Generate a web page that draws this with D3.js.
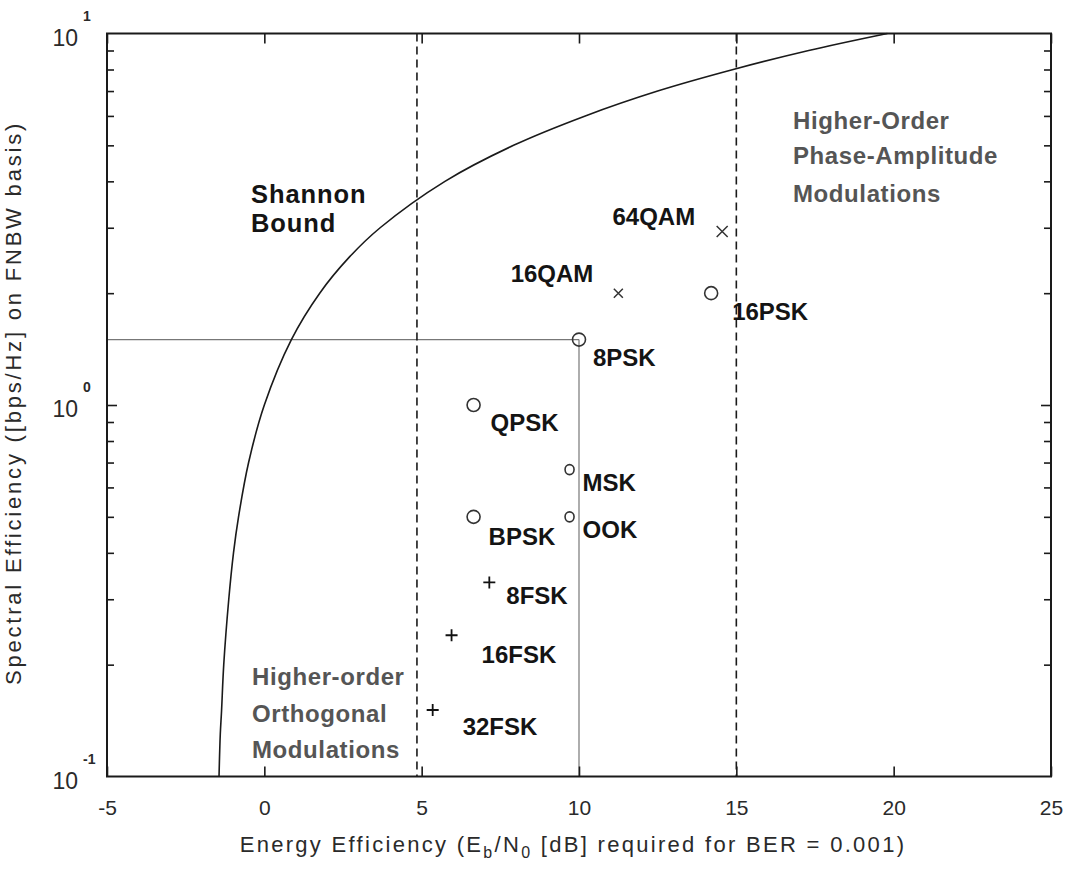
<!DOCTYPE html>
<html>
<head>
<meta charset="utf-8">
<script src="https://cdn.jsdelivr.net/npm/d3@7"></script>
<style>
  html, body { margin: 0; padding: 0; background: #fff; }
  svg { display: block; }
  text { font-family: "Liberation Sans", Arial, Helvetica, sans-serif; }
</style>
</head>
<body>
<svg id="chart" width="1068" height="869"></svg>
<script>
// Modulation schemes: required Eb/N0 (dB) for BER = 1e-3 and spectral efficiency (bps/Hz, FNBW)
const schemes  = ["64QAM", "16QAM", "16PSK", "8PSK", "QPSK", "MSK", "OOK", "BPSK", "8FSK", "16FSK", "32FSK"];
const ebN0     = [14.55, 11.25, 14.2, 10.0, 6.65, 9.7, 9.7, 6.65, 7.15, 5.95, 5.35];
const specEff  = [2.93, 2.0, 2.0, 1.5, 1.0, 0.67, 0.5, 0.5, 0.333, 0.24, 0.151];
const markers  = ["x", "x", "o", "o", "o", "o", "o", "o", "+", "+", "+"];

// Shannon bound: Eb/N0 (dB) and spectral efficiency (bps/Hz)
const shannonEbN0 = [-1.44, -1.40, -1.36, -1.29, -1.13, -0.98, -0.82, -0.50, 0.0, 0.86, 1.76, 2.70, 3.68, 5.74, 7.92, 10.2, 12.5, 14.9, 17.3, 19.8];
const shannonEff  = [0.1, 0.13, 0.15, 0.2, 0.3, 0.4, 0.5, 0.7, 1.0, 1.5, 2.0, 2.5, 3.0, 4.0, 5.0, 6.0, 7.0, 8.0, 9.0, 10.0];

// Region boundaries (dashed)
const boundaryEbN0 = [4.85, 15];
const xTicks = [-5, 0, 5, 10, 15, 20, 25];
const yDecades = [-1, 0, 1];

const svg = d3.select("#chart");
const L = 107, R = 1051, T = 33.5, B = 776.5;

const x = d3.scaleLinear().domain([-5, 25]).range([L, R]);
const y = d3.scaleLog().domain([0.1, 10]).range([B, T]);

const ink = "#1a1a1a";

// reference lines through 8PSK
const ref = schemes.indexOf("8PSK");
svg.append("line")
  .attr("x1", x(-5)).attr("x2", x(ebN0[ref]))
  .attr("y1", y(specEff[ref])).attr("y2", y(specEff[ref]))
  .attr("stroke", "#777").attr("stroke-width", 1.2);
svg.append("line")
  .attr("x1", x(ebN0[ref])).attr("x2", x(ebN0[ref]))
  .attr("y1", y(specEff[ref])).attr("y2", y(0.1))
  .attr("stroke", "#777").attr("stroke-width", 1.2);

// dashed region boundaries
svg.selectAll("line.bound").data(boundaryEbN0).enter().append("line")
  .attr("class", "bound")
  .attr("x1", d => x(d)).attr("x2", d => x(d))
  .attr("y1", y(10)).attr("y2", y(0.1))
  .attr("stroke", ink).attr("stroke-width", 1.6)
  .attr("stroke-dasharray", "8,5");

// Shannon bound curve
const shannon = shannonEbN0.map((v, i) => [v, shannonEff[i]]);
svg.append("path")
  .datum(shannon)
  .attr("fill", "none")
  .attr("stroke", ink)
  .attr("stroke-width", 1.6)
  .attr("d", d3.line().x(d => x(d[0])).y(d => y(d[1])).curve(d3.curveCatmullRom.alpha(0.5)));

// frame
svg.append("rect")
  .attr("x", L).attr("y", T).attr("width", R - L).attr("height", B - T)
  .attr("fill", "none").attr("stroke", ink).attr("stroke-width", 2);

// x axis ticks (inward, bottom and top) and labels
const xAxisB = d3.axisBottom(x).tickValues(xTicks).tickSize(-10).tickPadding(25).tickFormat(d => String(d));
const gxb = svg.append("g").attr("transform", `translate(0,${B})`).call(xAxisB);
const xAxisT = d3.axisTop(x).tickValues(xTicks).tickSize(-10).tickFormat("");
const gxt = svg.append("g").attr("transform", `translate(0,${T})`).call(xAxisT);
[gxb, gxt].forEach(g => {
  g.select(".domain").remove();
  g.selectAll(".tick line").attr("stroke", ink).attr("stroke-width", 1.6);
});
gxb.selectAll(".tick text")
  .attr("font-size", 21).attr("fill", "#2a2a2a")
  .attr("font-family", "'Liberation Sans Narrow', 'Liberation Sans', Arial, sans-serif")
  .attr("dy", "0.65em");

// y axis: major and minor log ticks on both sides
const yMinor = [];
for (let e = -1; e < 1; e++) for (let k = 2; k <= 9; k++) yMinor.push(k * Math.pow(10, e));
const yMajor = yDecades.map(e => Math.pow(10, e)).filter(v => v > 0.1 && v < 10);

const yAxisL = d3.axisLeft(y).tickValues(yMinor).tickSize(-7).tickFormat("");
const yAxisR = d3.axisRight(y).tickValues(yMinor).tickSize(-7).tickFormat("");
const yAxisLM = d3.axisLeft(y).tickValues(yMajor).tickSize(-10).tickFormat("");
const yAxisRM = d3.axisRight(y).tickValues(yMajor).tickSize(-10).tickFormat("");
[[yAxisL, L], [yAxisR, R], [yAxisLM, L], [yAxisRM, R]].forEach(([ax, pos]) => {
  const g = svg.append("g").attr("transform", `translate(${pos},0)`).call(ax);
  g.select(".domain").remove();
  g.selectAll(".tick line").attr("stroke", ink).attr("stroke-width", 1.6);
});

// y tick labels as powers of ten
const yl = svg.append("g");
yDecades.forEach(e => {
  const ty = y(Math.pow(10, e));
  yl.append("text")
    .attr("x", 78).attr("y", ty + 12)
    .attr("text-anchor", "end")
    .attr("font-size", 23).attr("fill", "#2a2a2a")
    .text("10");
  yl.append("text")
    .attr("x", 83).attr("y", ty - 13)
    .attr("font-size", 14).attr("font-weight", "bold").attr("fill", "#2a2a2a")
    .text(String(e));
});

// markers
const g = svg.append("g");
schemes.forEach((name, i) => {
  const cx = x(ebN0[i]), cy = y(specEff[i]);
  const m = markers[i];
  if (m === "o") {
    const small = (name === "MSK" || name === "OOK");
    g.append("ellipse")
      .attr("cx", cx).attr("cy", cy)
      .attr("rx", small ? 4.5 : 6.5).attr("ry", small ? 5 : 6.5)
      .attr("fill", "none").attr("stroke", "#333").attr("stroke-width", 1.6);
  } else if (m === "x") {
    const h = name === "64QAM" ? 5.5 : 4.5;
    g.append("path")
      .attr("d", `M${cx - h},${cy - h}L${cx + h},${cy + h}M${cx - h},${cy + h}L${cx + h},${cy - h}`)
      .attr("stroke", "#333").attr("stroke-width", 1.5);
  } else {
    const h = 6;
    g.append("path")
      .attr("d", `M${cx - h},${cy}L${cx + h},${cy}M${cx},${cy - h}L${cx},${cy + h}`)
      .attr("stroke", "#111").attr("stroke-width", 1.8);
  }
});

// label placement relative to each marker (pixels)
const labelPos = {
  "64QAM": { dx: -27, dy: -7, anchor: "end" },
  "16QAM": { dx: -25, dy: -11, anchor: "end" },
  "16PSK": { dx: 21, dy: 27, anchor: "start" },
  "8PSK":  { dx: 14, dy: 26, anchor: "start" },
  "QPSK":  { dx: 17, dy: 26, anchor: "start" },
  "MSK":   { dx: 13, dy: 21, anchor: "start" },
  "OOK":   { dx: 13, dy: 21, anchor: "start" },
  "BPSK":  { dx: 15, dy: 28, anchor: "start" },
  "8FSK":  { dx: 17, dy: 22, anchor: "start" },
  "16FSK": { dx: 30, dy: 28, anchor: "start" },
  "32FSK": { dx: 30, dy: 25, anchor: "start" }
};
schemes.forEach((name, i) => {
  const p = labelPos[name];
  g.append("text")
    .attr("x", x(ebN0[i]) + p.dx).attr("y", y(specEff[i]) + p.dy)
    .attr("text-anchor", p.anchor)
    .attr("font-size", 24).attr("font-weight", "bold").attr("fill", "#141414")
    .text(name);
});

// region annotations
function block(lines, x0, baselines, color, size, spacing) {
  lines.forEach((t, i) => {
    svg.append("text")
      .attr("x", x0).attr("y", baselines[i])
      .attr("font-size", size).attr("font-weight", "bold").attr("fill", color)
      .attr("letter-spacing", spacing)
      .text(t);
  });
}
block(["Shannon", "Bound"], 251, [203, 232], "#141414", 25.5, 0.9);
block(["Higher-Order", "Phase-Amplitude", "Modulations"], 793, [129, 164, 202], "#555", 24, 0.6);
block(["Higher-order", "Orthogonal", "Modulations"], 252, [685, 722, 758], "#555", 24, 0.6);

// axis titles
const xt = svg.append("text")
  .attr("x", 573).attr("y", 852)
  .attr("text-anchor", "middle")
  .attr("font-size", 22).attr("letter-spacing", 2.3).attr("fill", "#2a2a2a");
xt.append("tspan").text("Energy Efficiency (E");
xt.append("tspan").attr("font-size", 16).attr("dy", 6).text("b");
xt.append("tspan").attr("dy", -6).text("/N");
xt.append("tspan").attr("font-size", 16).attr("dy", 6).text("0");
xt.append("tspan").attr("dy", -6).text(" [dB] required for BER = 0.001)");

svg.append("text")
  .attr("transform", "translate(21,403) rotate(-90)")
  .attr("text-anchor", "middle")
  .attr("font-size", 22).attr("letter-spacing", 2.8).attr("fill", "#2a2a2a")
  .text("Spectral Efficiency ([bps/Hz] on FNBW basis)");
</script>
</body>
</html>
